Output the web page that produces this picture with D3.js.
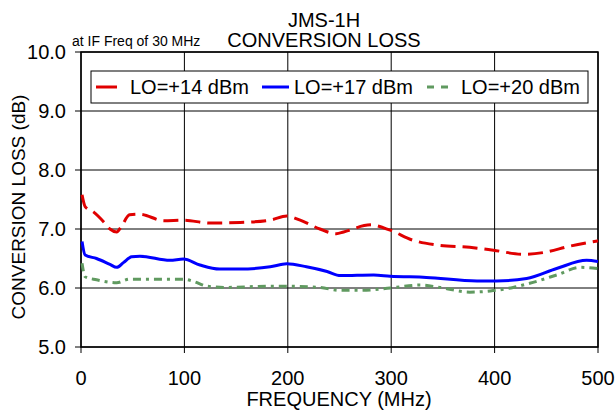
<!DOCTYPE html>
<meta charset="utf-8">
<style>
body {
  margin: 0;
  background: #fff;
  font-family: "Liberation Sans", Arial, sans-serif;
}
text {
  fill: #000;
}
.grid line {
  stroke: #000;
  stroke-width: 1;
}
.curve {
  fill: none;
  stroke-width: 3;
}
</style>
<body>
<script src="https://cdn.jsdelivr.net/npm/d3@7"></script>
<script>

var width = 616,
    height = 413;

var freq14 = [1, 4, 12, 22, 28, 34.5, 39, 47, 57, 80, 99, 125, 154, 183, 199, 212, 231, 247, 254, 280, 299, 321, 344, 376, 399, 428, 447, 473, 500];
var loss14 = [7.58, 7.38, 7.29, 7.12, 7.0, 6.95, 7.04, 7.24, 7.25, 7.14, 7.15, 7.10, 7.11, 7.15, 7.22, 7.15, 7.0, 6.92, 6.95, 7.07, 6.98, 6.81, 6.73, 6.69, 6.64, 6.57, 6.60, 6.71, 6.80];

var freq17 = [1, 4, 15, 28, 34.5, 41, 49, 57, 86, 99, 115, 134, 154, 183, 199, 218, 238, 251, 283, 299, 334, 383, 402, 431, 460, 489, 500];
var loss17 = [6.79, 6.56, 6.50, 6.40, 6.35, 6.43, 6.53, 6.54, 6.47, 6.49, 6.39, 6.32, 6.32, 6.36, 6.41, 6.36, 6.28, 6.21, 6.22, 6.20, 6.18, 6.12, 6.12, 6.16, 6.33, 6.47, 6.45];

var freq20 = [1, 4, 15, 34.5, 47, 76, 99, 109, 122, 141, 180, 199, 231, 250, 270, 299, 328, 347, 376, 396, 418, 434, 460, 483, 500];
var loss20 = [6.42, 6.19, 6.14, 6.09, 6.15, 6.15, 6.15, 6.11, 6.03, 6.01, 6.03, 6.03, 6.01, 5.96, 5.96, 6.00, 6.05, 6.01, 5.93, 5.95, 6.01, 6.08, 6.22, 6.35, 6.33];

var xTicks = [0, 100, 200, 300, 400, 500];
var yTicks = [5, 6, 7, 8, 9, 10];

var seriesNames = ["LO=+14 dBm", "LO=+17 dBm", "LO=+20 dBm"];
var seriesColors = ["#e00000", "#0000ff", "#609a60"];
var seriesDash = ["15,7", null, "8,5,3,5"];

var series = [
  {name: seriesNames[0], color: seriesColors[0], dash: seriesDash[0], f: freq14, v: loss14},
  {name: seriesNames[1], color: seriesColors[1], dash: seriesDash[1], f: freq17, v: loss17},
  {name: seriesNames[2], color: seriesColors[2], dash: seriesDash[2], f: freq20, v: loss20}
];

var x = d3.scaleLinear().domain([0, 500]).range([81, 598]);
var y = d3.scaleLinear().domain([5, 10]).range([347, 52]);

var svg = d3.select("body").append("svg")
    .attr("width", width)
    .attr("height", height);

// grid
var grid = svg.append("g").attr("class", "grid");
grid.selectAll(".gx").data(xTicks).enter().append("line")
    .attr("x1", function(d) { return x(d); })
    .attr("x2", function(d) { return x(d); })
    .attr("y1", y(10))
    .attr("y2", y(5) + 6);
grid.selectAll(".gy").data(yTicks).enter().append("line")
    .attr("x1", x(0) - 6)
    .attr("x2", x(500))
    .attr("y1", function(d) { return y(d); })
    .attr("y2", function(d) { return y(d); });

svg.append("rect")
    .attr("x", x(0)).attr("y", y(10))
    .attr("width", x(500) - x(0)).attr("height", y(5) - y(10))
    .attr("fill", "none").attr("stroke", "#000").attr("stroke-width", 1.5);

// tick labels
svg.selectAll(".ylab").data(yTicks).enter().append("text")
    .attr("x", 66)
    .attr("y", function(d) { return y(d) + 7; })
    .attr("text-anchor", "end")
    .style("font-size", "20px")
    .text(function(d) { return d3.format(".1f")(d); });

svg.selectAll(".xlab").data(xTicks).enter().append("text")
    .attr("x", function(d) { return x(d); })
    .attr("y", 385)
    .attr("text-anchor", "middle")
    .style("font-size", "20px")
    .text(function(d) { return d; });

// curves
var line = d3.line()
    .x(function(d) { return x(d[0]); })
    .y(function(d) { return y(d[1]); })
    .curve(d3.curveMonotoneX);

series.forEach(function(s) {
  var pts = s.f.map(function(f, i) { return [f, s.v[i]]; });
  svg.append("path")
      .attr("class", "curve")
      .attr("d", line(pts))
      .attr("stroke", s.color)
      .attr("stroke-dasharray", s.dash);
});

// legend
svg.append("rect")
    .attr("x", 91).attr("y", 71)
    .attr("width", 497).attr("height", 32)
    .attr("fill", "#fff").attr("stroke", "#000").attr("stroke-width", 1);

var legendPos = [[96, 117, 130], [262, 289, 294], [427, 450, 461]];
series.forEach(function(s, i) {
  var p = legendPos[i];
  svg.append("line")
      .attr("x1", p[0]).attr("x2", p[1])
      .attr("y1", 87).attr("y2", 87)
      .attr("stroke", s.color).attr("stroke-width", 3)
      .attr("stroke-dasharray", i == 2 ? "7,7" : null);
  svg.append("text")
      .attr("x", p[2]).attr("y", 94)
      .style("font-size", "20px")
      .text(s.name);
});

// titles
svg.append("text").attr("x", 324).attr("y", 27)
    .attr("text-anchor", "middle").style("font-size", "20px").text("JMS-1H");
svg.append("text").attr("x", 324).attr("y", 47)
    .attr("text-anchor", "middle").style("font-size", "20px").text("CONVERSION LOSS");
svg.append("text").attr("x", 72).attr("y", 46)
    .style("font-size", "14px").text("at IF Freq of 30 MHz");

svg.append("text").attr("x", 339).attr("y", 406)
    .attr("text-anchor", "middle").style("font-size", "20px").text("FREQUENCY (MHz)");
svg.append("text")
    .attr("transform", "translate(25,207) rotate(-90)")
    .attr("text-anchor", "middle").style("font-size", "19px").text("CONVERSION LOSS (dB)");

</script>
